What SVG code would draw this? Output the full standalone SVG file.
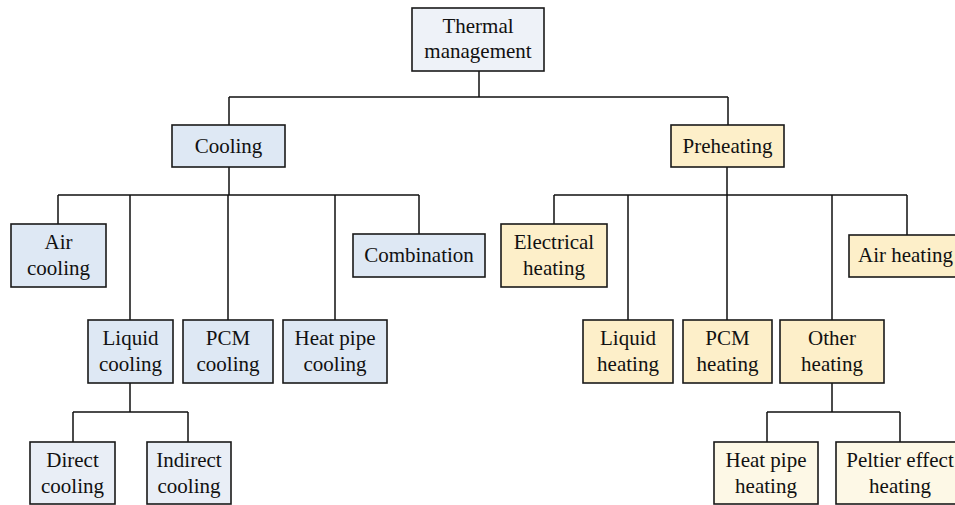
<svg xmlns="http://www.w3.org/2000/svg" width="955" height="505" viewBox="0 0 955 505">
<style>
rect{stroke:#1a1a1a;stroke-width:1.6}
.t0{fill:#eef2f8}
.b1{fill:#dee8f4}
.b2{fill:#e9eef6}
.y1{fill:#fdefc9}
.y2{fill:#fdf8e6}
text{font-family:'Liberation Serif','DejaVu Serif',serif;font-size:21px;fill:#111;text-anchor:middle}
#connectors path{fill:none;stroke:#111;stroke-width:1.5}
</style>
<rect x="0" y="0" width="955" height="505" style="fill:#fff;stroke:none"/>
<g id="connectors">
<path d="M479 71V97M229 97H728M229 97V125M728 97V125"/>
<path d="M229 167V195M58 195H419M58 195V224M130 195V320M228 195V320M335 195V320M419 195V234"/>
<path d="M130 383V412M73 412H188M73 412V442M188 412V442"/>
<path d="M727 167V195M554 195H907M554 195V224M628 195V320M727 195V320M832 195V320M907 195V235"/>
<path d="M832 383V412M767 412H900M767 412V442M900 412V442"/>
</g>
<g id="thermal"><rect class="t0" x="412" y="8" width="132" height="63"/><text x="478" y="33">Thermal</text><text x="478" y="58">management</text></g>
<g id="cooling"><rect class="b1" x="172" y="125" width="113" height="42"/><text x="228.5" y="153">Cooling</text></g>
<g id="preheating"><rect class="y1" x="671" y="125" width="113" height="42"/><text x="727.5" y="153">Preheating</text></g>
<g id="air-cooling"><rect class="b1" x="11" y="224" width="95" height="63"/><text x="58.5" y="249">Air</text><text x="58.5" y="275">cooling</text></g>
<g id="combination"><rect class="b1" x="353" y="234" width="132" height="43"/><text x="419" y="262">Combination</text></g>
<g id="liquid-cooling"><rect class="b1" x="88" y="320" width="85" height="63"/><text x="130.5" y="345">Liquid</text><text x="130.5" y="371">cooling</text></g>
<g id="pcm-cooling"><rect class="b1" x="183" y="320" width="90" height="63"/><text x="228" y="345">PCM</text><text x="228" y="371">cooling</text></g>
<g id="heatpipe-cooling"><rect class="b1" x="283" y="320" width="104" height="63"/><text x="335" y="345">Heat pipe</text><text x="335" y="371">cooling</text></g>
<g id="direct-cooling"><rect class="b2" x="30" y="442" width="85" height="62"/><text x="72.5" y="467">Direct</text><text x="72.5" y="493">cooling</text></g>
<g id="indirect-cooling"><rect class="b2" x="147" y="442" width="84" height="62"/><text x="189" y="467">Indirect</text><text x="189" y="493">cooling</text></g>
<g id="electrical-heating"><rect class="y1" x="501" y="224" width="106" height="63"/><text x="554" y="249">Electrical</text><text x="554" y="275">heating</text></g>
<g id="air-heating"><rect class="y1" x="849" y="235" width="113" height="42"/><text x="905.5" y="262">Air heating</text></g>
<g id="liquid-heating"><rect class="y1" x="583" y="320" width="90" height="63"/><text x="628" y="345">Liquid</text><text x="628" y="371">heating</text></g>
<g id="pcm-heating"><rect class="y1" x="683" y="320" width="89" height="63"/><text x="727.5" y="345">PCM</text><text x="727.5" y="371">heating</text></g>
<g id="other-heating"><rect class="y1" x="780" y="320" width="104" height="63"/><text x="832" y="345">Other</text><text x="832" y="371">heating</text></g>
<g id="heatpipe-heating"><rect class="y2" x="714" y="442" width="104" height="62"/><text x="766" y="467">Heat pipe</text><text x="766" y="493">heating</text></g>
<g id="peltier-heating"><rect class="y2" x="836" y="442" width="128" height="62"/><text x="900" y="467">Peltier effect</text><text x="900" y="493">heating</text></g>
</svg>
